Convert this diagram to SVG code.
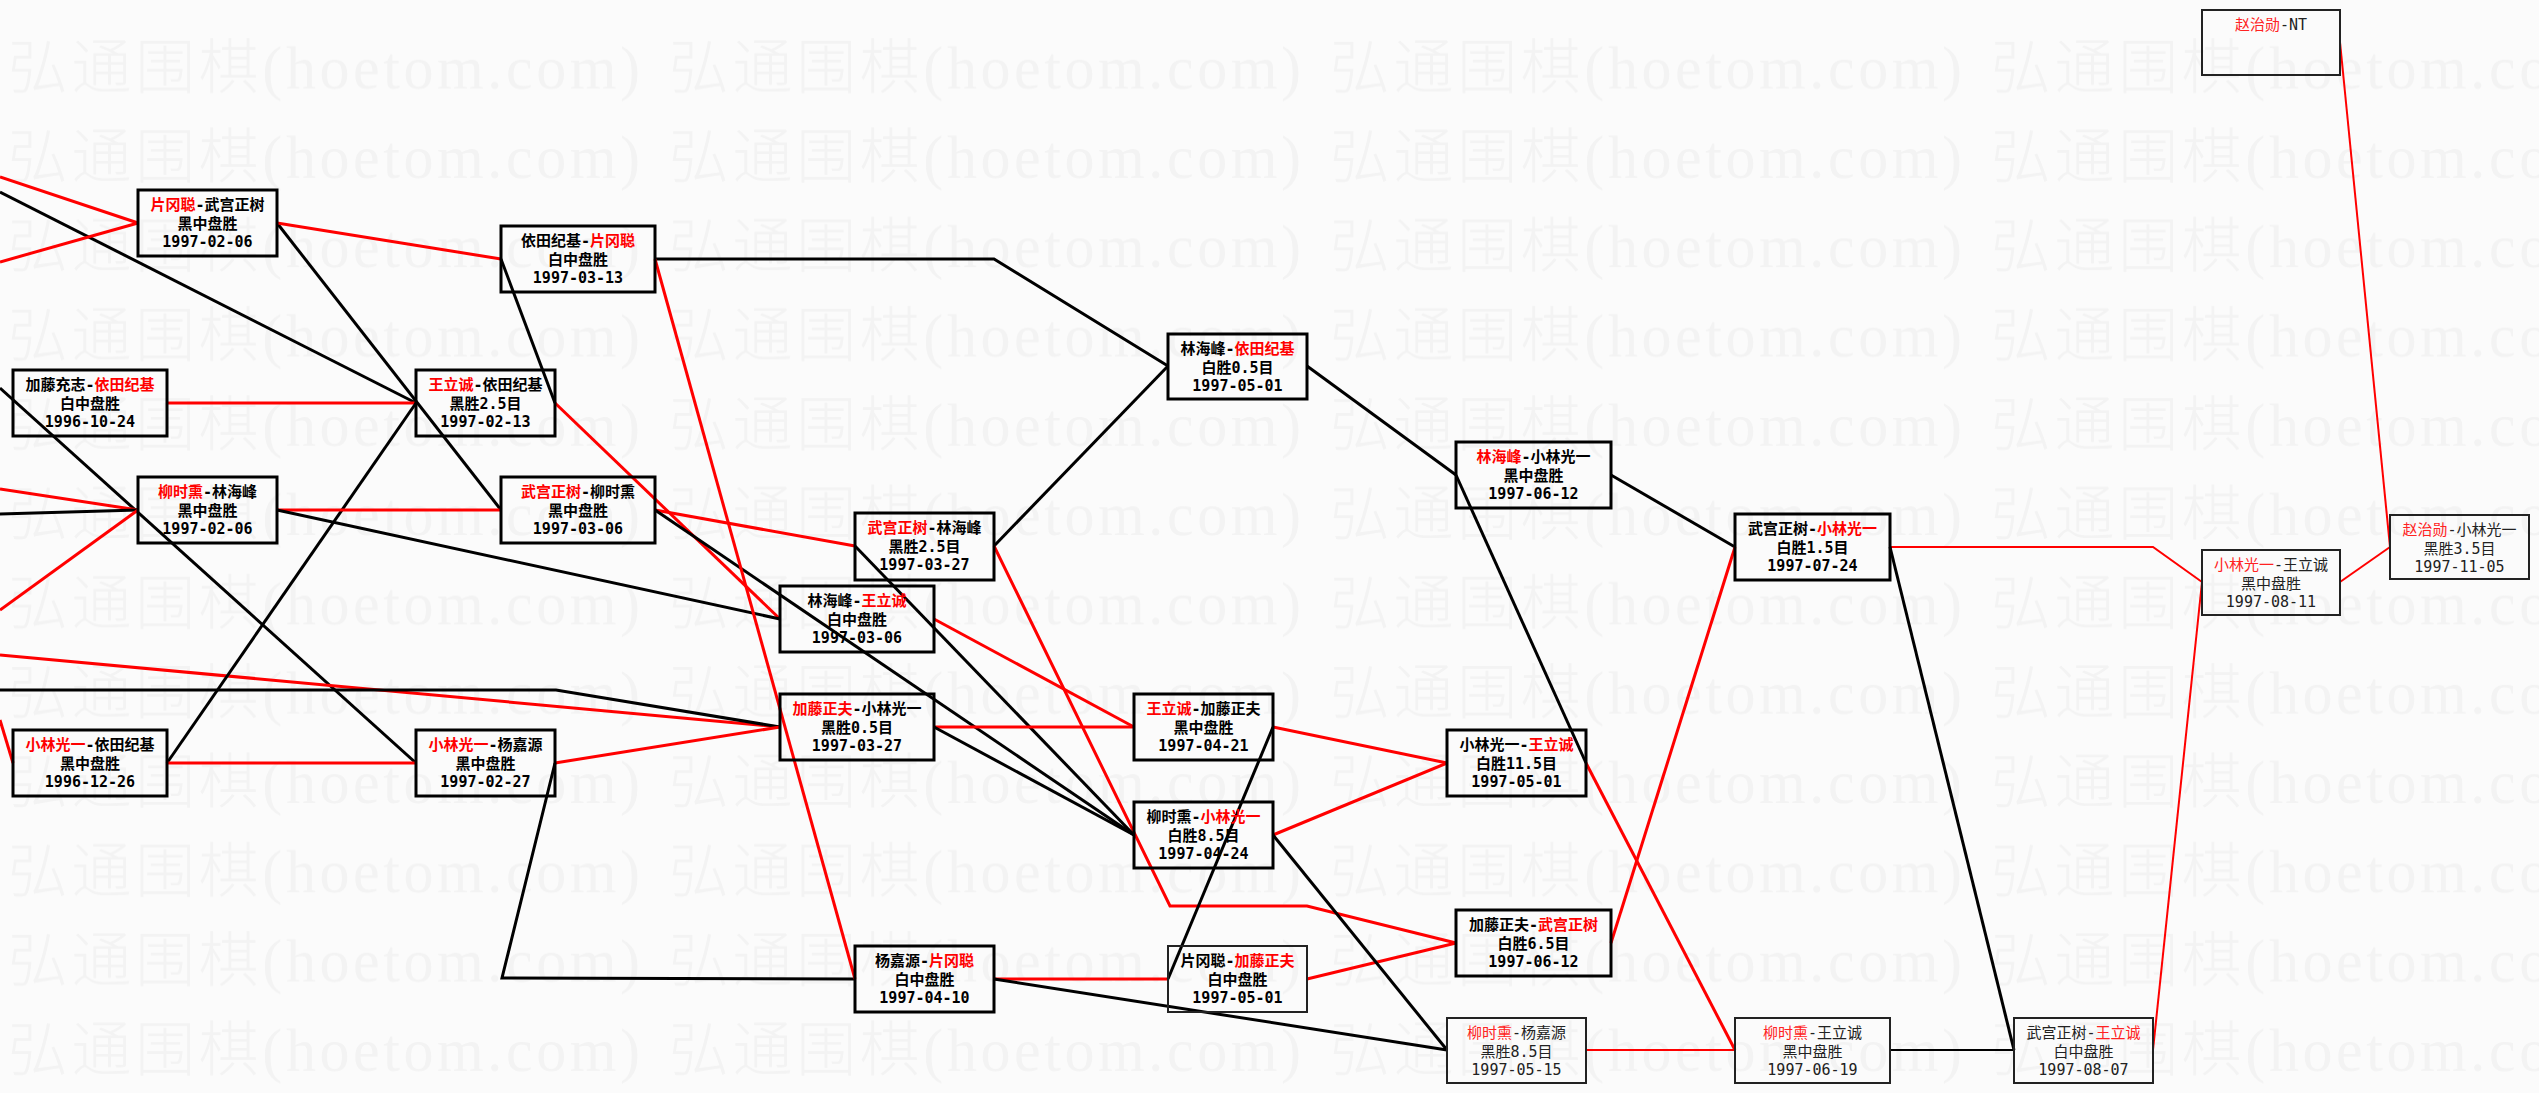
<svg xmlns="http://www.w3.org/2000/svg" width="2539" height="1093" viewBox="0 0 2539 1093">
<style>
.bg{fill:#fbfbfb}
.wm{font-family:"Liberation Serif","Noto Sans CJK SC",serif;font-size:60px;fill:#f3f3f3;font-weight:300}
.box{fill:none;stroke:#000;stroke-width:3}
.box.thin{stroke-width:2;stroke:#222}
.t{font-family:"DejaVu Sans Mono","Noto Sans CJK SC",monospace;font-size:15px;text-anchor:middle;fill:#000;font-weight:bold}
.t.thin{font-weight:normal;fill:#222}
.r{fill:#f00}
.thin .r{fill:#f22}
.lk{fill:none;stroke:#000;stroke-width:3}
.lr{fill:none;stroke:#f00;stroke-width:3}
.s{stroke-width:2}
</style>
<defs>
<pattern id="wmp" patternUnits="userSpaceOnUse" x="8" y="30" width="661" height="89.3">
<text class="wm" x="0" y="59" textLength="632" lengthAdjust="spacing">弘通围棋(hoetom.com)</text>
</pattern>
</defs>
<rect class="bg" x="0" y="0" width="2539" height="1093"/>
<rect x="0" y="30" width="2539" height="1063" fill="url(#wmp)"/>

<g id="connectors">
<line class="lr" x1="0" y1="177" x2="138" y2="223"/>
<line class="lk" x1="0" y1="192" x2="416" y2="403"/>
<line class="lr" x1="0" y1="262" x2="138" y2="223"/>
<line class="lk" x1="277" y1="223" x2="501" y2="510"/>
<line class="lr" x1="277" y1="223" x2="501" y2="259"/>
<line class="lr" x1="167" y1="403" x2="416" y2="403"/>
<line class="lk" x1="0" y1="388" x2="416" y2="763"/>
<line class="lr" x1="0" y1="489" x2="138" y2="510"/>
<line class="lk" x1="0" y1="514" x2="138" y2="510"/>
<line class="lr" x1="0" y1="610" x2="138" y2="510"/>
<line class="lr" x1="0" y1="655" x2="780" y2="727"/>
<polyline class="lk" points="0,690 556,690 780,727"/>
<line class="lr" x1="0" y1="720" x2="13" y2="763"/>
<line class="lk" x1="167" y1="763" x2="416" y2="403"/>
<line class="lr" x1="167" y1="763" x2="416" y2="763"/>
<line class="lr" x1="555" y1="763" x2="780" y2="727"/>
<polyline class="lk" points="555,763 502,978 855,979"/>
<line class="lk" x1="555" y1="403" x2="501" y2="259"/>
<line class="lr" x1="555" y1="403" x2="780" y2="619"/>
<line class="lr" x1="277" y1="510" x2="501" y2="510"/>
<line class="lk" x1="277" y1="510" x2="780" y2="619"/>
<line class="lr" x1="655" y1="510" x2="855" y2="546"/>
<line class="lk" x1="655" y1="510" x2="1134" y2="835"/>
<polyline class="lk" points="655,259 994,259 1168,366"/>
<line class="lr" x1="655" y1="259" x2="855" y2="979"/>
<line class="lk" x1="994" y1="546" x2="1168" y2="366"/>
<polyline class="lr" points="994,546 1170,906 1307,906 1456,943"/>
<line class="lk" x1="855" y1="546" x2="1134" y2="835"/>
<line class="lr" x1="934" y1="727" x2="1134" y2="727"/>
<line class="lk" x1="934" y1="727" x2="1134" y2="835"/>
<line class="lr" x1="934" y1="619" x2="1134" y2="727"/>
<line class="lr" x1="994" y1="979" x2="1168" y2="979"/>
<line class="lk" x1="994" y1="979" x2="1447" y2="1050"/>
<line class="lk" x1="1168" y1="979" x2="1273" y2="727"/>
<line class="lr" x1="1307" y1="979" x2="1456" y2="943"/>
<line class="lr" x1="1273" y1="727" x2="1447" y2="763"/>
<line class="lr" x1="1273" y1="835" x2="1447" y2="763"/>
<line class="lk" x1="1273" y1="835" x2="1447" y2="1050"/>
<line class="lk" x1="1307" y1="366" x2="1456" y2="475"/>
<line class="lk" x1="1456" y1="475" x2="1586" y2="763"/>
<line class="lk" x1="1611" y1="475" x2="1735" y2="547"/>
<line class="lr" x1="1586" y1="763" x2="1735" y2="1050"/>
<line class="lr" x1="1735" y1="547" x2="1611" y2="943"/>
<polyline class="lr s" points="1890,547 2153,547 2202,582"/>
<line class="lk" x1="1890" y1="547" x2="2014" y2="1050"/>
<line class="lr s" x1="1586" y1="1050" x2="1735" y2="1050"/>
<line class="lk s" x1="1890" y1="1050" x2="2014" y2="1050"/>
<line class="lr s" x1="2153" y1="1050" x2="2202" y2="582"/>
<line class="lr s" x1="2340" y1="582" x2="2390" y2="547"/>
<line class="lr s" x1="2340" y1="42" x2="2390" y2="547"/>
</g>

<g id="n1"><rect class="box" x="138" y="190" width="139" height="66"/><text class="t" x="207.5" y="210"><tspan class="r">片冈聪</tspan>-武宫正树</text><text class="t" x="207.5" y="229">黑中盘胜</text><text class="t" x="207.5" y="247">1997-02-06</text></g>
<g id="n2"><rect class="box" x="501" y="226" width="154" height="66"/><text class="t" x="578" y="246">依田纪基-<tspan class="r">片冈聪</tspan></text><text class="t" x="578" y="265">白中盘胜</text><text class="t" x="578" y="283">1997-03-13</text></g>
<g id="n3"><rect class="box" x="13" y="370" width="154" height="66"/><text class="t" x="90" y="390">加藤充志-<tspan class="r">依田纪基</tspan></text><text class="t" x="90" y="409">白中盘胜</text><text class="t" x="90" y="427">1996-10-24</text></g>
<g id="n4"><rect class="box" x="416" y="370" width="139" height="66"/><text class="t" x="485.5" y="390"><tspan class="r">王立诚</tspan>-依田纪基</text><text class="t" x="485.5" y="409">黑胜2.5目</text><text class="t" x="485.5" y="427">1997-02-13</text></g>
<g id="n5"><rect class="box" x="138" y="477" width="139" height="66"/><text class="t" x="207.5" y="497"><tspan class="r">柳时熏</tspan>-林海峰</text><text class="t" x="207.5" y="516">黑中盘胜</text><text class="t" x="207.5" y="534">1997-02-06</text></g>
<g id="n6"><rect class="box" x="501" y="477" width="154" height="66"/><text class="t" x="578" y="497"><tspan class="r">武宫正树</tspan>-柳时熏</text><text class="t" x="578" y="516">黑中盘胜</text><text class="t" x="578" y="534">1997-03-06</text></g>
<g id="n7"><rect class="box" x="13" y="730" width="154" height="66"/><text class="t" x="90" y="750"><tspan class="r">小林光一</tspan>-依田纪基</text><text class="t" x="90" y="769">黑中盘胜</text><text class="t" x="90" y="787">1996-12-26</text></g>
<g id="n8"><rect class="box" x="416" y="730" width="139" height="66"/><text class="t" x="485.5" y="750"><tspan class="r">小林光一</tspan>-杨嘉源</text><text class="t" x="485.5" y="769">黑中盘胜</text><text class="t" x="485.5" y="787">1997-02-27</text></g>
<g id="n9"><rect class="box" x="855" y="513" width="139" height="67"/><text class="t" x="924.5" y="533"><tspan class="r">武宫正树</tspan>-林海峰</text><text class="t" x="924.5" y="552">黑胜2.5目</text><text class="t" x="924.5" y="570">1997-03-27</text></g>
<g id="n10"><rect class="box" x="780" y="586" width="154" height="66"/><text class="t" x="857" y="606">林海峰-<tspan class="r">王立诚</tspan></text><text class="t" x="857" y="625">白中盘胜</text><text class="t" x="857" y="643">1997-03-06</text></g>
<g id="n11"><rect class="box" x="780" y="694" width="154" height="66"/><text class="t" x="857" y="714"><tspan class="r">加藤正夫</tspan>-小林光一</text><text class="t" x="857" y="733">黑胜0.5目</text><text class="t" x="857" y="751">1997-03-27</text></g>
<g id="n12"><rect class="box" x="1168" y="334" width="139" height="65"/><text class="t" x="1237.5" y="354">林海峰-<tspan class="r">依田纪基</tspan></text><text class="t" x="1237.5" y="373">白胜0.5目</text><text class="t" x="1237.5" y="391">1997-05-01</text></g>
<g id="n13"><rect class="box" x="1134" y="694" width="139" height="66"/><text class="t" x="1203.5" y="714"><tspan class="r">王立诚</tspan>-加藤正夫</text><text class="t" x="1203.5" y="733">黑中盘胜</text><text class="t" x="1203.5" y="751">1997-04-21</text></g>
<g id="n14"><rect class="box" x="1134" y="802" width="139" height="66"/><text class="t" x="1203.5" y="822">柳时熏-<tspan class="r">小林光一</tspan></text><text class="t" x="1203.5" y="841">白胜8.5目</text><text class="t" x="1203.5" y="859">1997-04-24</text></g>
<g id="n15"><rect class="box" x="855" y="946" width="139" height="66"/><text class="t" x="924.5" y="966">杨嘉源-<tspan class="r">片冈聪</tspan></text><text class="t" x="924.5" y="985">白中盘胜</text><text class="t" x="924.5" y="1003">1997-04-10</text></g>
<g id="n16"><rect class="box thin" x="1168" y="946" width="139" height="66"/><text class="t" x="1237.5" y="966">片冈聪-<tspan class="r">加藤正夫</tspan></text><text class="t" x="1237.5" y="985">白中盘胜</text><text class="t" x="1237.5" y="1003">1997-05-01</text></g>
<g id="n17"><rect class="box" x="1456" y="442" width="155" height="66"/><text class="t" x="1533.5" y="462"><tspan class="r">林海峰</tspan>-小林光一</text><text class="t" x="1533.5" y="481">黑中盘胜</text><text class="t" x="1533.5" y="499">1997-06-12</text></g>
<g id="n18"><rect class="box" x="1447" y="730" width="139" height="66"/><text class="t" x="1516.5" y="750">小林光一-<tspan class="r">王立诚</tspan></text><text class="t" x="1516.5" y="769">白胜11.5目</text><text class="t" x="1516.5" y="787">1997-05-01</text></g>
<g id="n19"><rect class="box" x="1735" y="514" width="155" height="66"/><text class="t" x="1812.5" y="534">武宫正树-<tspan class="r">小林光一</tspan></text><text class="t" x="1812.5" y="553">白胜1.5目</text><text class="t" x="1812.5" y="571">1997-07-24</text></g>
<g id="n20"><rect class="box" x="1456" y="910" width="155" height="66"/><text class="t" x="1533.5" y="930">加藤正夫-<tspan class="r">武宫正树</tspan></text><text class="t" x="1533.5" y="949">白胜6.5目</text><text class="t" x="1533.5" y="967">1997-06-12</text></g>
<g id="n21"><rect class="box thin" x="1447" y="1018" width="139" height="65"/><text class="t thin" x="1516.5" y="1038"><tspan class="r">柳时熏</tspan>-杨嘉源</text><text class="t thin" x="1516.5" y="1057">黑胜8.5目</text><text class="t thin" x="1516.5" y="1075">1997-05-15</text></g>
<g id="n22"><rect class="box thin" x="1735" y="1018" width="155" height="65"/><text class="t thin" x="1812.5" y="1038"><tspan class="r">柳时熏</tspan>-王立诚</text><text class="t thin" x="1812.5" y="1057">黑中盘胜</text><text class="t thin" x="1812.5" y="1075">1997-06-19</text></g>
<g id="n23"><rect class="box thin" x="2014" y="1018" width="139" height="65"/><text class="t thin" x="2083.5" y="1038">武宫正树-<tspan class="r">王立诚</tspan></text><text class="t thin" x="2083.5" y="1057">白中盘胜</text><text class="t thin" x="2083.5" y="1075">1997-08-07</text></g>
<g id="n24"><rect class="box thin" x="2202" y="550" width="138" height="65"/><text class="t thin" x="2271" y="570"><tspan class="r">小林光一</tspan>-王立诚</text><text class="t thin" x="2271" y="589">黑中盘胜</text><text class="t thin" x="2271" y="607">1997-08-11</text></g>
<g id="n25"><rect class="box thin" x="2390" y="515" width="139" height="64"/><text class="t thin" x="2459.5" y="535"><tspan class="r">赵治勋</tspan>-小林光一</text><text class="t thin" x="2459.5" y="554">黑胜3.5目</text><text class="t thin" x="2459.5" y="572">1997-11-05</text></g>
<g id="n26"><rect class="box thin" x="2202" y="10" width="138" height="65"/><text class="t thin" x="2271" y="30"><tspan class="r">赵治勋</tspan>-NT</text></g>
</svg>
